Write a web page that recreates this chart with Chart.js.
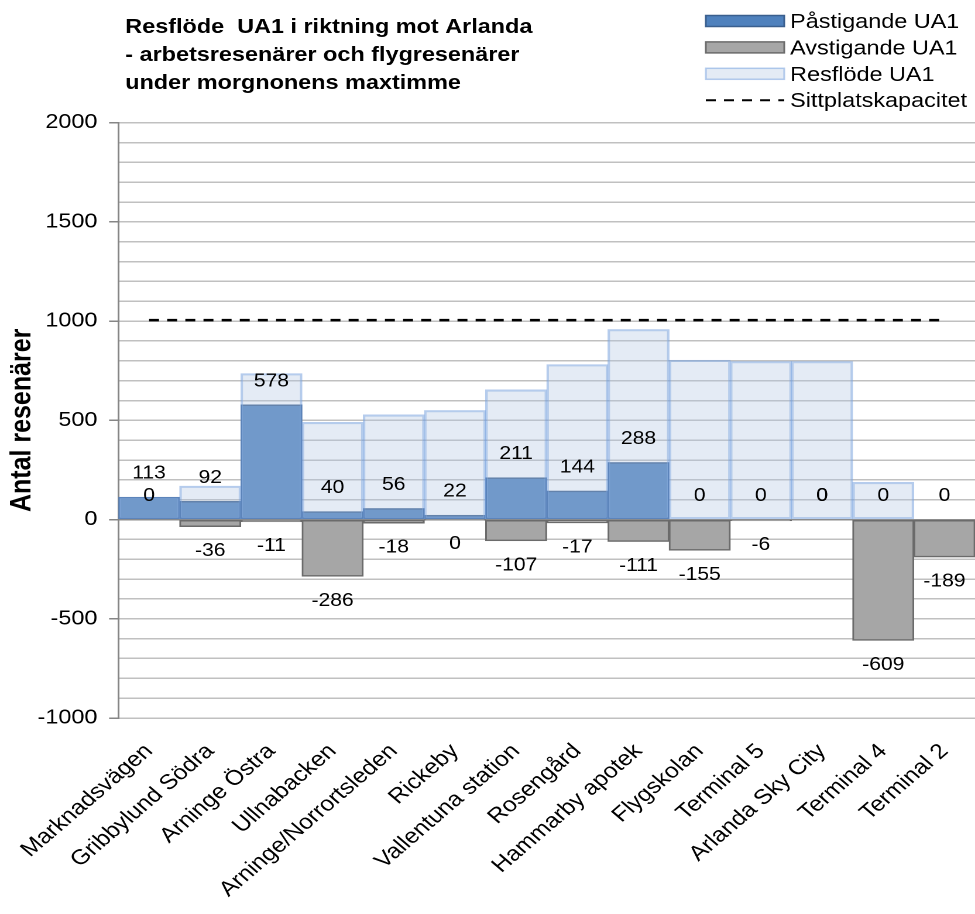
<!DOCTYPE html>
<html>
<head>
<meta charset="utf-8">
<script src="https://cdn.jsdelivr.net/npm/chart.js@4.4.0/dist/chart.umd.min.js"></script>
<style>
  html, body { margin: 0; padding: 0; background: #fff; overflow: hidden; }
  /* the reference picture is stretched sideways, so the canvas is too */
  #chart { transform: scaleX(1.1705); transform-origin: 0 0; }
</style>
</head>
<body>
<canvas id="chart" width="833" height="914"></canvas>
<script>
const stations = ['Marknadsvägen', 'Gribbylund Södra', 'Arninge Östra', 'Ullnabacken', 'Arninge/Norrortsleden',
  'Rickeby', 'Vallentuna station', 'Rosengård', 'Hammarby apotek', 'Flygskolan', 'Terminal 5',
  'Arlanda Sky City', 'Terminal 4', 'Terminal 2'];
const boarding = [113, 92, 578, 40, 56, 22, 211, 144, 288, 0, 0, 0, 0, 0];
const alighting = [0, -36, -11, -286, -18, -0.4, -107, -17, -111, -155, -6, 0, -609, -189];
const flow = [113, 169, 736, 490, 528, 550, 654, 781, 958, 803, 797, 797, 188, 0];
const seatCapacity = [1005, 1005, 1005, 1005, 1005, 1005, 1005, 1005, 1005, 1005, 1005, 1005, 1005, 1005];
const yLabelled = [-1000, -500, 0, 500, 1000, 1500, 2000];
const titleLines = ['Resflöde  UA1 i riktning mot Arlanda', '- arbetsresenärer och flygresenärer', 'under morgnonens maxtimme'];

Chart.defaults.font.family = '"Liberation Sans", Arial, sans-serif';
Chart.defaults.color = '#000';

// numbers above / below the bars
const valueLabels = {
  id: 'valueLabels',
  afterDatasetsDraw(chart) {
    const ctx = chart.ctx;
    ctx.save();
    ctx.font = '18px "Liberation Sans", Arial, sans-serif';
    ctx.fillStyle = '#000';
    ctx.textAlign = 'center';
    ctx.textBaseline = 'middle';
    [0, 1].forEach(di => {
      const data = chart.data.datasets[di].data;
      chart.getDatasetMeta(di).data.forEach((bar, i) => {
        const v = data[i];
        const y = v < 0 ? bar.y + 24.5 : bar.y - 23.5;
        ctx.fillText(String(Math.round(v)), bar.x, y);
      });
    });
    ctx.restore();
  }
};

// title block at the left, legend at the right
const header = {
  id: 'header',
  afterDraw(chart) {
    const ctx = chart.ctx;
    ctx.save();
    ctx.fillStyle = '#000';
    ctx.textBaseline = 'alphabetic';
    ctx.textAlign = 'left';
    ctx.font = 'bold 20px "Liberation Sans", Arial, sans-serif';
    titleLines.forEach((t, i) => ctx.fillText(t, 107, 33 + i * 28));

    ctx.font = '20px "Liberation Sans", Arial, sans-serif';
    const x0 = 603, w = 67;
    chart.data.datasets.forEach((ds, i) => {
      const base = 28 + i * 26.4;
      if (ds.type === 'line') {
        ctx.strokeStyle = ds.borderColor;
        ctx.lineWidth = 2;
        ctx.setLineDash(ds.borderDash);
        ctx.beginPath();
        ctx.moveTo(x0, base - 7);
        ctx.lineTo(x0 + w, base - 7);
        ctx.stroke();
        ctx.setLineDash([]);
      } else {
        ctx.fillStyle = '#fff';
        ctx.fillRect(x0, base - 12.5, w, 11);
        ctx.fillStyle = ds.backgroundColor;
        ctx.fillRect(x0, base - 12.5, w, 11);
        ctx.strokeStyle = ds.borderColor;
        ctx.lineWidth = 1.5;
        ctx.strokeRect(x0, base - 12.5, w, 11);
      }
      ctx.fillStyle = '#000';
      ctx.fillText(ds.label, 675, base);
    });
    ctx.restore();
  }
};

new Chart(document.getElementById('chart'), {
  data: {
    labels: stations,
    datasets: [
      {
        type: 'bar', label: 'Påstigande UA1', data: boarding,
        backgroundColor: '#4F81BD', borderColor: '#3A5F8E', borderWidth: 1.5, borderSkipped: false,
        grouped: false, barPercentage: 1, categoryPercentage: 1, order: 2
      },
      {
        type: 'bar', label: 'Avstigande UA1', data: alighting,
        backgroundColor: '#A6A6A6', borderColor: '#6B6B6B', borderWidth: 1.5, borderSkipped: false,
        grouped: false, barPercentage: 1, categoryPercentage: 1, order: 3
      },
      {
        type: 'bar', label: 'Resflöde UA1', data: flow,
        backgroundColor: 'rgba(178,198,227,0.35)', borderColor: 'rgba(120,162,222,0.55)', borderWidth: 1.5,
        borderSkipped: false, grouped: false, barPercentage: 1, categoryPercentage: 1, order: 1
      },
      {
        type: 'line', label: 'Sittplatskapacitet', data: seatCapacity,
        borderColor: '#000', borderWidth: 2.5, borderDash: [8.5, 7], pointRadius: 0, fill: false, order: 0
      }
    ]
  },
  options: {
    responsive: false,
    animation: false,
    devicePixelRatio: 2,
    layout: { padding: { top: 122.7, left: 0, right: 0, bottom: 0 } },
    plugins: { legend: { display: false }, tooltip: { enabled: false } },
    scales: {
      x: {
        grid: { display: false, drawTicks: false },
        border: { display: false },
        ticks: { font: { size: 21 }, color: '#000', minRotation: 45, maxRotation: 45, autoSkip: false, padding: 21 },
        afterFit: s => { s.height = 196; s.paddingLeft = 0; s.paddingRight = 0; }
      },
      y: {
        min: -1000, max: 2000,
        ticks: {
          stepSize: 100, autoSkip: false, font: { size: 20 }, color: '#000', padding: 10,
          callback: v => yLabelled.includes(v) ? String(v) : ''
        },
        grid: {
          color: c => c.tick && c.tick.value === 0 ? '#8C8C8C' : '#C0C0C0',
          lineWidth: 1.5,
          tickLength: 8,
          tickColor: c => c.tick && yLabelled.includes(c.tick.value) ? '#868686' : 'rgba(0,0,0,0)'
        },
        border: { color: '#868686', width: 1.5 },
        title: {
          display: true, text: 'Antal resenärer', color: '#000',
          font: { size: 25, weight: 'bold' }, padding: { top: 4, bottom: 0 }
        },
        afterFit: s => { s.width = 101.2; }
      }
    }
  },
  plugins: [valueLabels, header]
});
</script>
</body>
</html>
